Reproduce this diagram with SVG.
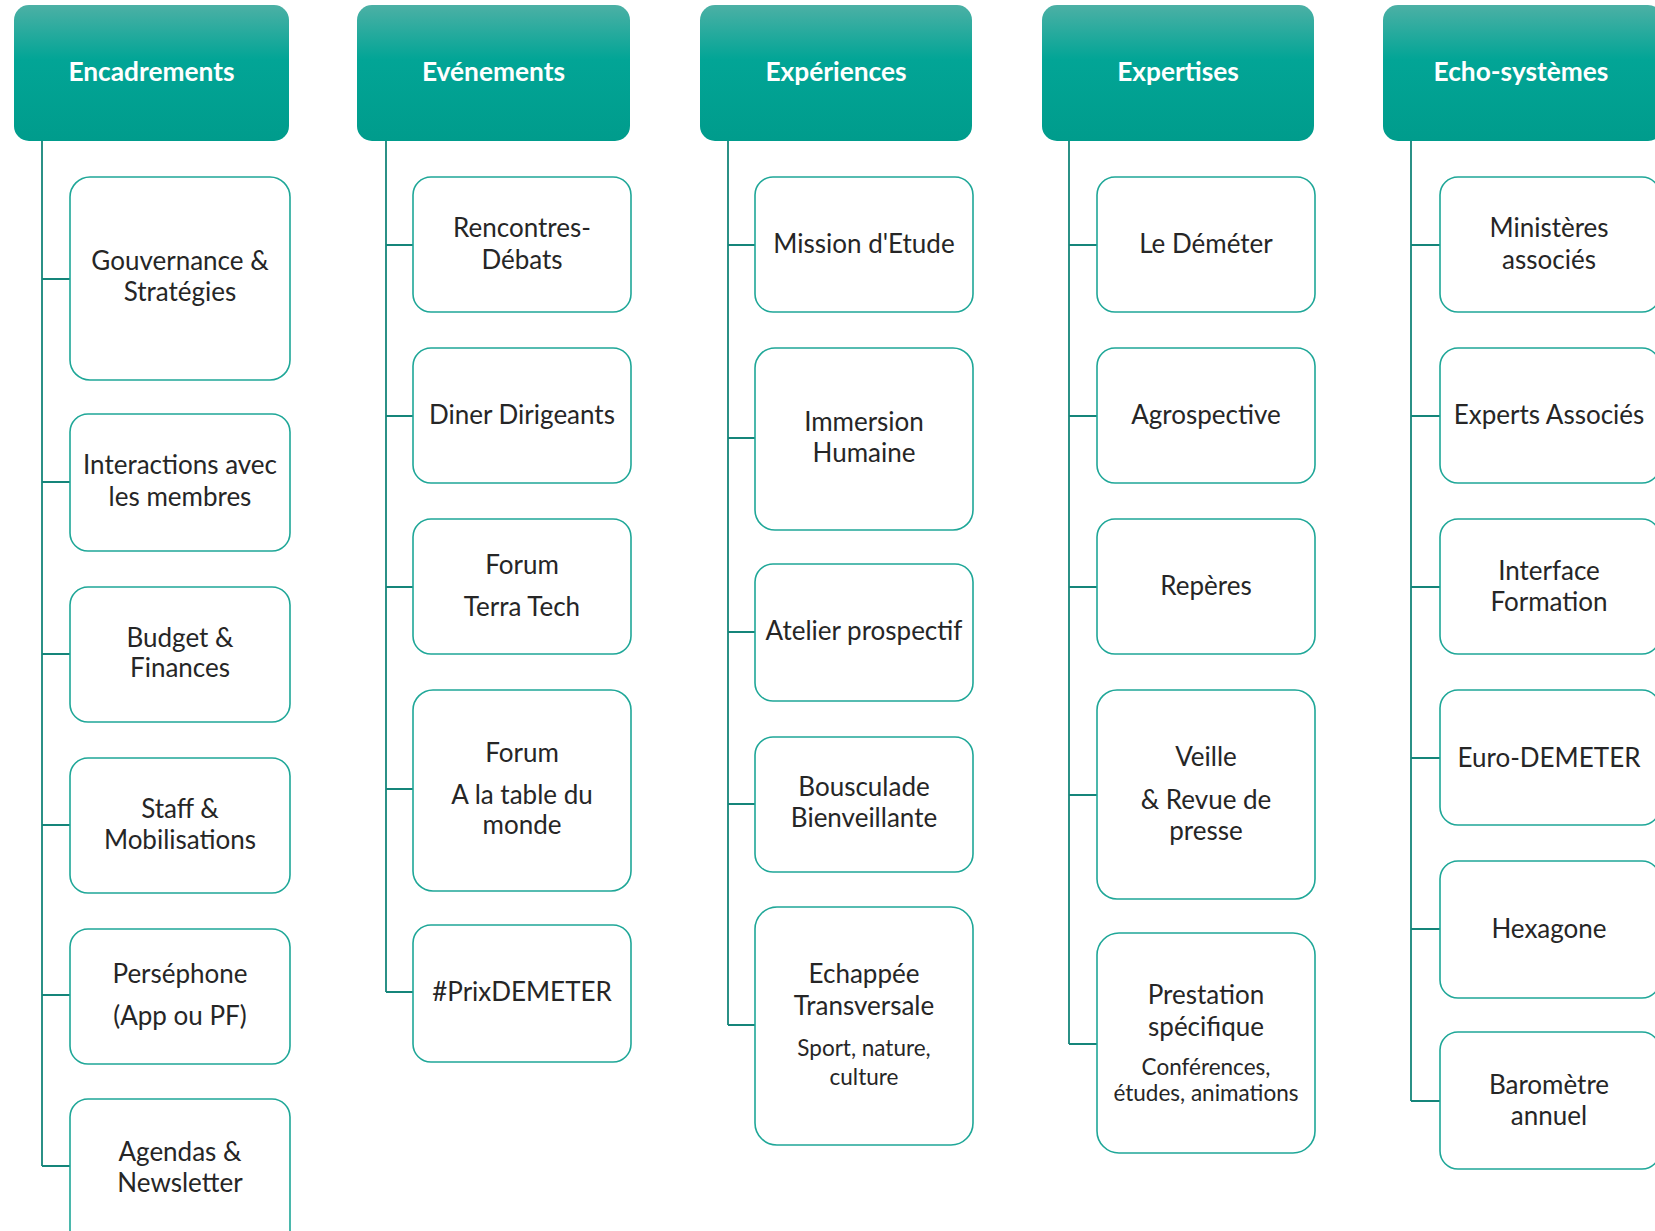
<svg xmlns="http://www.w3.org/2000/svg" width="1655" height="1231" viewBox="0 0 1655 1231">
<style>
.hd{stroke:none}
.ht{font-family:Lato,"Liberation Sans",sans-serif;font-weight:700;font-size:26.3px;fill:#ffffff;text-anchor:middle}
.bx{fill:#ffffff;stroke:#1fa798;stroke-width:1.6}
.t{font-family:Lato,"Liberation Sans",sans-serif;font-size:26px;fill:#262626;text-anchor:middle}
.s{font-family:Lato,"Liberation Sans",sans-serif;font-size:22.5px;fill:#262626;text-anchor:middle}
.cn{fill:none;stroke:#15857a;stroke-width:1.8}
</style>
<defs>
<linearGradient id="g" x1="0" y1="0" x2="0" y2="1">
<stop offset="0" stop-color="#4cb0a5"/>
<stop offset="0.4" stop-color="#02a596"/>
<stop offset="1" stop-color="#009c8c"/>
</linearGradient>
</defs>
<rect width="1655" height="1231" fill="#ffffff"/>
<g id="connectors">
<path class="cn" d="M42 141V1166M42 279H70M42 482H70M42 654H70M42 825H70M42 995H70M42 1166H70"/>
<path class="cn" d="M386 141V992M386 245H413M386 416H413M386 587H413M386 789H413M386 992H413"/>
<path class="cn" d="M728 141V1025M728 245H755M728 438H755M728 632H755M728 804H755M728 1025H755"/>
<path class="cn" d="M1069 141V1044M1069 245H1097M1069 416H1097M1069 587H1097M1069 795H1097M1069 1044H1097"/>
<path class="cn" d="M1411 141V1101M1411 245H1440M1411 416H1440M1411 587H1440M1411 758H1440M1411 929H1440M1411 1101H1440"/>
</g>
<g id="h1"><rect class="hd" x="14" y="5" width="275" height="136" rx="15" fill="url(#g)"/><text class="ht" x="151.5" y="81">Encadrements</text></g>
<g id="h2"><rect class="hd" x="357" y="5" width="273" height="136" rx="15" fill="url(#g)"/><text class="ht" x="493.5" y="81">Evénements</text></g>
<g id="h3"><rect class="hd" x="700" y="5" width="272" height="136" rx="15" fill="url(#g)"/><text class="ht" x="836" y="81">Expériences</text></g>
<g id="h4"><rect class="hd" x="1042" y="5" width="272" height="136" rx="15" fill="url(#g)"/><text class="ht" x="1178" y="81">Expertises</text></g>
<g id="h5"><rect class="hd" x="1383" y="5" width="280" height="136" rx="15" fill="url(#g)"/><text class="ht" x="1521" y="81">Echo-systèmes</text></g>

<g id="n1a"><rect class="bx" x="70" y="177" width="220" height="203" rx="20"/><text class="t" x="180" y="270">Gouvernance &amp;</text><text class="t" x="180" y="301">Stratégies</text></g>
<g id="n1b"><rect class="bx" x="70" y="414" width="220" height="137" rx="18"/><text class="t" x="180" y="474">Interactions avec</text><text class="t" x="180" y="506">les membres</text></g>
<g id="n1c"><rect class="bx" x="70" y="587" width="220" height="135" rx="18"/><text class="t" x="180" y="647">Budget &amp;</text><text class="t" x="180" y="677">Finances</text></g>
<g id="n1d"><rect class="bx" x="70" y="758" width="220" height="135" rx="18"/><text class="t" x="180" y="818">Staff &amp;</text><text class="t" x="180" y="849">Mobilisations</text></g>
<g id="n1e"><rect class="bx" x="70" y="929" width="220" height="135" rx="18"/><text class="t" x="180" y="983">Perséphone</text><text class="t" x="180" y="1025">(App ou PF)</text></g>
<g id="n1f"><rect class="bx" x="70" y="1099" width="220" height="150" rx="18"/><text class="t" x="180" y="1161">Agendas &amp;</text><text class="t" x="180" y="1192">Newsletter</text></g>

<g id="n2a"><rect class="bx" x="413" y="177" width="218" height="135" rx="18"/><text class="t" x="522" y="237">Rencontres-</text><text class="t" x="522" y="269">Débats</text></g>
<g id="n2b"><rect class="bx" x="413" y="348" width="218" height="135" rx="18"/><text class="t" x="522" y="424">Diner Dirigeants</text></g>
<g id="n2c"><rect class="bx" x="413" y="519" width="218" height="135" rx="18"/><text class="t" x="522" y="574">Forum</text><text class="t" x="522" y="616">Terra Tech</text></g>
<g id="n2d"><rect class="bx" x="413" y="690" width="218" height="201" rx="20"/><text class="t" x="522" y="762">Forum</text><text class="t" x="522" y="804">A la table du</text><text class="t" x="522" y="834">monde</text></g>
<g id="n2e"><rect class="bx" x="413" y="925" width="218" height="137" rx="18"/><text class="t" x="522" y="1001">#PrixDEMETER</text></g>

<g id="n3a"><rect class="bx" x="755" y="177" width="218" height="135" rx="18"/><text class="t" x="864" y="253">Mission d'Etude</text></g>
<g id="n3b"><rect class="bx" x="755" y="348" width="218" height="182" rx="20"/><text class="t" x="864" y="431">Immersion</text><text class="t" x="864" y="462">Humaine</text></g>
<g id="n3c"><rect class="bx" x="755" y="564" width="218" height="137" rx="18"/><text class="t" x="864" y="640">Atelier prospectif</text></g>
<g id="n3d"><rect class="bx" x="755" y="737" width="218" height="135" rx="18"/><text class="t" x="864" y="796">Bousculade</text><text class="t" x="864" y="827">Bienveillante</text></g>
<g id="n3e"><rect class="bx" x="755" y="907" width="218" height="238" rx="22"/><text class="t" x="864" y="983">Echappée</text><text class="t" x="864" y="1015">Transversale</text><text class="s" x="864" y="1056">Sport, nature,</text><text class="s" x="864" y="1085">culture</text></g>

<g id="n4a"><rect class="bx" x="1097" y="177" width="218" height="135" rx="18"/><text class="t" x="1206" y="253">Le Déméter</text></g>
<g id="n4b"><rect class="bx" x="1097" y="348" width="218" height="135" rx="18"/><text class="t" x="1206" y="424">Agrospective</text></g>
<g id="n4c"><rect class="bx" x="1097" y="519" width="218" height="135" rx="18"/><text class="t" x="1206" y="595">Repères</text></g>
<g id="n4d"><rect class="bx" x="1097" y="690" width="218" height="209" rx="20"/><text class="t" x="1206" y="766">Veille</text><text class="t" x="1206" y="809">&amp; Revue de</text><text class="t" x="1206" y="840">presse</text></g>
<g id="n4e"><rect class="bx" x="1097" y="933" width="218" height="220" rx="22"/><text class="t" x="1206" y="1004">Prestation</text><text class="t" x="1206" y="1036">spécifique</text><text class="s" x="1206" y="1075">Conférences,</text><text class="s" x="1206" y="1101">études, animations</text></g>

<g id="n5a"><rect class="bx" x="1440" y="177" width="220" height="135" rx="18"/><text class="t" x="1549" y="237">Ministères</text><text class="t" x="1549" y="269">associés</text></g>
<g id="n5b"><rect class="bx" x="1440" y="348" width="220" height="135" rx="18"/><text class="t" x="1549" y="424">Experts Associés</text></g>
<g id="n5c"><rect class="bx" x="1440" y="519" width="220" height="135" rx="18"/><text class="t" x="1549" y="580">Interface</text><text class="t" x="1549" y="611">Formation</text></g>
<g id="n5d"><rect class="bx" x="1440" y="690" width="220" height="135" rx="18"/><text class="t" x="1549" y="767">Euro-DEMETER</text></g>
<g id="n5e"><rect class="bx" x="1440" y="861" width="220" height="137" rx="18"/><text class="t" x="1549" y="938">Hexagone</text></g>
<g id="n5f"><rect class="bx" x="1440" y="1032" width="220" height="137" rx="18"/><text class="t" x="1549" y="1094">Baromètre</text><text class="t" x="1549" y="1125">annuel</text></g>
</svg>
